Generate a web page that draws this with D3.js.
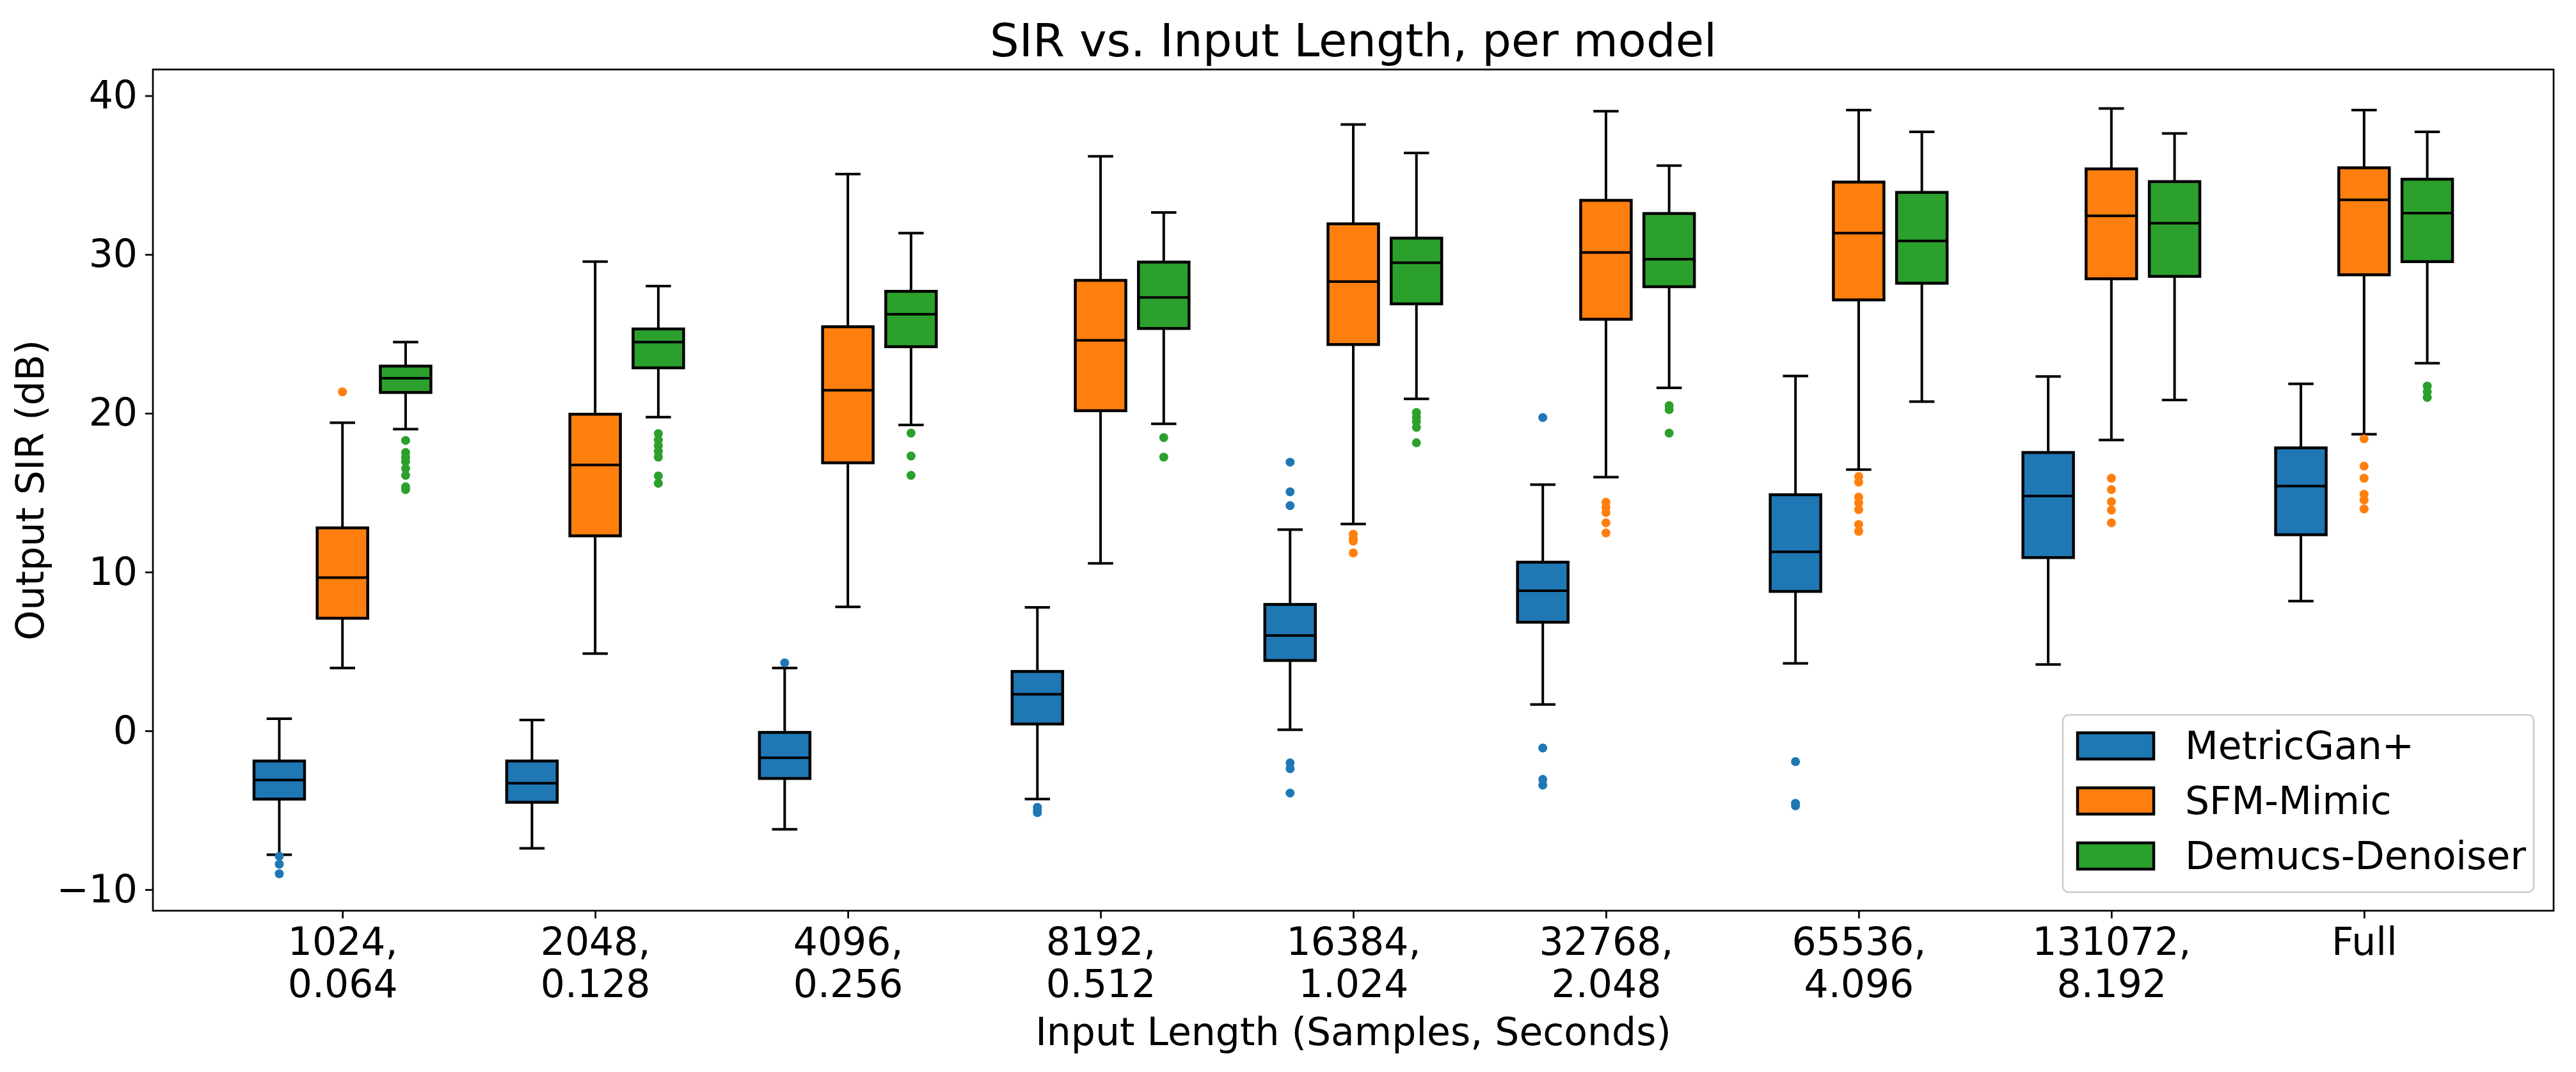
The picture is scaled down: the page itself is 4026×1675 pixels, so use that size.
<!DOCTYPE html>
<html>
<head>
<meta charset="utf-8">
<script src="https://cdn.jsdelivr.net/npm/d3@7.9.0/dist/d3.min.js"></script>
<style>
  html, body { margin: 0; padding: 0; background: #fff; }
  svg { display: block; font-family: "DejaVu Sans", sans-serif; }
</style>
</head>
<body>
<svg id="chart"></svg>
<script>
// categories (tick labels, two lines each)
const categories = ['1024', '2048', '4096', '8192', '16384', '32768', '65536', '131072', 'Full'];
const tickLabels = [
  ['1024,', '0.064'], ['2048,', '0.128'], ['4096,', '0.256'], ['8192,', '0.512'],
  ['16384,', '1.024'], ['32768,', '2.048'], ['65536,', '4.096'], ['131072,', '8.192'], ['Full']
];
const models = ['MetricGan+', 'SFM-Mimic', 'Demucs-Denoiser'];
const colors = ['#1f77b4', '#ff7f0e', '#2ca02c'];
const yTicks = [-10, 0, 10, 20, 30, 40];

// [whisker low, q1, median, q3, whisker high] per category
const metricganStats = [
  [-7.8, -4.3, -3.1, -1.9, 0.76],
  [-7.4, -4.5, -3.3, -1.9, 0.68],
  [-6.2, -3.0, -1.7, -0.1, 3.96],
  [-4.3, 0.43, 2.3, 3.74, 7.78],
  [0.07, 4.43, 6.0, 7.96, 12.67],
  [1.66, 6.84, 8.82, 10.62, 15.5],
  [4.25, 8.78, 11.27, 14.87, 22.35],
  [4.18, 10.91, 14.79, 17.53, 22.32],
  [8.17, 12.35, 15.41, 17.82, 21.85]
];
const sfmStats = [
  [3.96, 7.09, 9.65, 12.78, 19.4],
  [4.86, 12.28, 16.74, 19.94, 29.55],
  [7.81, 16.88, 21.45, 25.45, 35.06],
  [10.55, 20.16, 24.59, 28.37, 36.18],
  [13.03, 24.33, 28.29, 31.93, 38.19],
  [15.98, 25.92, 30.13, 33.41, 39.02],
  [16.45, 27.14, 31.35, 34.56, 39.09],
  [18.32, 28.47, 32.43, 35.39, 39.2],
  [18.68, 28.72, 33.44, 35.46, 39.09]
];
const demucsStats = [
  [19.0, 21.31, 22.21, 22.97, 24.48],
  [19.76, 22.86, 24.48, 25.31, 28.01],
  [19.26, 24.19, 26.24, 27.68, 31.35],
  [19.33, 25.34, 27.29, 29.52, 32.65],
  [20.91, 26.89, 29.48, 31.03, 36.39],
  [21.6, 27.97, 29.7, 32.58, 35.6],
  [20.73, 28.19, 30.85, 33.91, 37.72],
  [20.84, 28.62, 31.97, 34.59, 37.62],
  [23.15, 29.55, 32.61, 34.74, 37.72]
];

// outliers per category
const metricganFliers = [
  [-7.9, -8.4, -9.0],
  [],
  [4.28],
  [-4.82, -5.0, -5.15],
  [16.92, 15.05, 14.18, -2.02, -2.38, -3.92],
  [19.73, -1.08, -3.06, -3.42],
  [-1.94, -4.57, -4.72],
  [],
  []
];
const sfmFliers = [
  [21.35],
  [],
  [],
  [],
  [12.38, 12.13, 11.95, 11.2],
  [14.4, 14.07, 13.75, 13.1, 12.46],
  [16.02, 15.66, 14.72, 14.36, 13.93, 13.0, 12.56],
  [15.91, 15.19, 14.43, 13.9, 13.1],
  [18.39, 16.67, 15.91, 14.9, 14.54, 13.97]
];
const demucsFliers = [
  [18.29, 17.53, 17.24, 16.95, 16.52, 16.09, 15.37, 15.19],
  [18.72, 18.32, 17.96, 17.6, 17.24, 16.05, 15.59],
  [18.75, 17.31, 16.09],
  [18.47, 17.24],
  [20.05, 19.76, 19.47, 19.11, 18.14],
  [20.48, 20.23, 18.75],
  [],
  [],
  [21.71, 21.35, 20.99]
];

const allStats = [metricganStats, sfmStats, demucsStats];
const allFliers = [metricganFliers, sfmFliers, demucsFliers];

const width = 4026;
const height = 1675;
const margin = { top: 108.6, right: 35, bottom: 252, left: 239 };

const svg = d3.select('#chart')
  .attr('width', width)
  .attr('height', height);

const xScale = d3.scaleLinear()
  .domain([0.25, 9.75])
  .range([margin.left, width - margin.right]);

const yScale = d3.scaleLinear()
  .domain([-11.33, 41.65])
  .range([height - margin.bottom, margin.top]);

const offsets = [-0.25, 0, 0.25];
const boxW = 0.2;
const capW = 0.1;

// boxes
const plot = svg.append('g').attr('class', 'boxes');
models.forEach((m, mi) => {
  allStats[mi].forEach((s, ci) => {
    const cx = ci + 1 + offsets[mi];
    const [lo, q1, med, q3, hi] = s;
    const g = plot.append('g');
    // whiskers
    g.append('line')
      .attr('x1', xScale(cx)).attr('x2', xScale(cx))
      .attr('y1', yScale(q1)).attr('y2', yScale(lo))
      .attr('stroke', '#000').attr('stroke-width', 4);
    g.append('line')
      .attr('x1', xScale(cx)).attr('x2', xScale(cx))
      .attr('y1', yScale(q3)).attr('y2', yScale(hi))
      .attr('stroke', '#000').attr('stroke-width', 4);
    // caps
    [lo, hi].forEach(v => {
      g.append('line')
        .attr('x1', xScale(cx - capW / 2)).attr('x2', xScale(cx + capW / 2))
        .attr('y1', yScale(v)).attr('y2', yScale(v))
        .attr('stroke', '#000').attr('stroke-width', 4);
    });
    g.append('rect')
      .attr('x', xScale(cx - boxW / 2))
      .attr('width', xScale(cx + boxW / 2) - xScale(cx - boxW / 2))
      .attr('y', yScale(q3))
      .attr('height', yScale(q1) - yScale(q3))
      .attr('fill', colors[mi])
      .attr('stroke', '#000')
      .attr('stroke-width', 4.5);
    g.append('line')
      .attr('x1', xScale(cx - boxW / 2)).attr('x2', xScale(cx + boxW / 2))
      .attr('y1', yScale(med)).attr('y2', yScale(med))
      .attr('stroke', '#000').attr('stroke-width', 4);
    // fliers
    g.selectAll('circle')
      .data(allFliers[mi][ci])
      .join('circle')
      .attr('cx', xScale(cx))
      .attr('cy', d => yScale(d))
      .attr('r', 7)
      .attr('fill', colors[mi]);
  });
});

// axes
const yAxis = d3.axisLeft(yScale)
  .tickValues(yTicks)
  .tickSize(12)
  .tickPadding(12)
  .tickFormat(d3.format('d'));

const xAxis = d3.axisBottom(xScale)
  .tickValues(d3.range(1, categories.length + 1))
  .tickSize(12)
  .tickFormat('');

const yG = svg.append('g')
  .attr('transform', `translate(${margin.left},0)`)
  .call(yAxis);
yG.select('.domain').remove();
yG.selectAll('.tick line').attr('stroke-width', 2.7);
yG.selectAll('.tick text')
  .attr('font-size', 60)
  .attr('font-family', '"DejaVu Sans", sans-serif')
  .attr('fill', '#000');

const xG = svg.append('g')
  .attr('transform', `translate(0,${height - margin.bottom})`)
  .call(xAxis);
xG.select('.domain').remove();
xG.selectAll('.tick line').attr('stroke-width', 2.7);

xG.selectAll('.tick').each(function (d, i) {
  const t = d3.select(this).append('text')
    .attr('fill', '#000')
    .attr('font-size', 60)
    .attr('font-family', '"DejaVu Sans", sans-serif')
    .attr('text-anchor', 'middle');
  tickLabels[i].forEach((line, li) => {
    t.append('tspan')
      .attr('x', 0)
      .attr('y', 69 + li * 66)
      .text(line);
  });
});

// frame
svg.append('rect')
  .attr('x', margin.left)
  .attr('y', margin.top)
  .attr('width', width - margin.left - margin.right)
  .attr('height', height - margin.top - margin.bottom)
  .attr('fill', 'none')
  .attr('stroke', '#000')
  .attr('stroke-width', 2.7);

// title and labels
svg.append('text')
  .attr('x', (margin.left + width - margin.right) / 2)
  .attr('y', 88)
  .attr('text-anchor', 'middle')
  .attr('font-size', 72)
  .text('SIR vs. Input Length, per model');

svg.append('text')
  .attr('x', (margin.left + width - margin.right) / 2)
  .attr('y', 1633)
  .attr('text-anchor', 'middle')
  .attr('font-size', 60)
  .text('Input Length (Samples, Seconds)');

svg.append('text')
  .attr('transform', `translate(68,${(margin.top + height - margin.bottom) / 2}) rotate(-90)`)
  .attr('text-anchor', 'middle')
  .attr('font-size', 60)
  .text('Output SIR (dB)');

// legend
const legend = svg.append('g').attr('transform', 'translate(3224,1117)');
legend.append('rect')
  .attr('width', 736)
  .attr('height', 277)
  .attr('rx', 9)
  .attr('fill', 'rgba(255,255,255,0.8)')
  .attr('stroke', '#cccccc')
  .attr('stroke-width', 2.7);
models.forEach((m, i) => {
  const cy = 48 + i * 86;
  legend.append('rect')
    .attr('x', 23)
    .attr('y', cy - 20)
    .attr('width', 119)
    .attr('height', 41)
    .attr('fill', colors[i])
    .attr('stroke', '#000')
    .attr('stroke-width', 4.5);
  legend.append('text')
    .attr('x', 191)
    .attr('y', cy + 21)
    .attr('font-size', 60)
    .text(m);
});
</script>
</body>
</html>
